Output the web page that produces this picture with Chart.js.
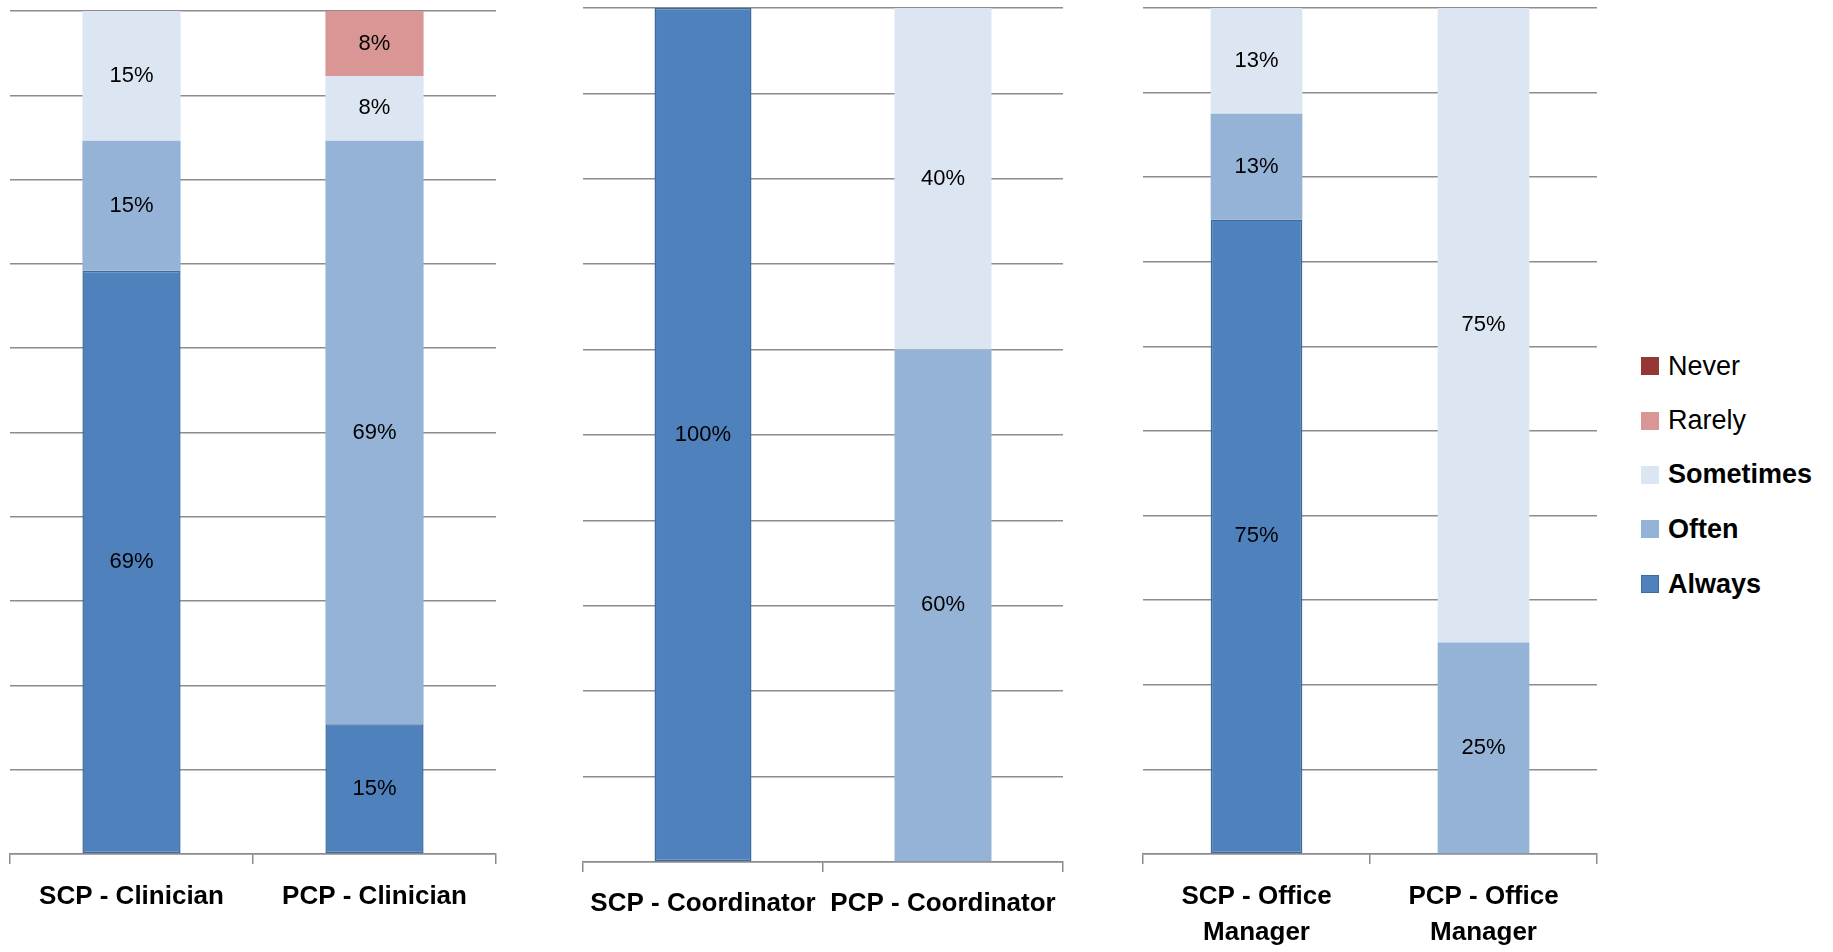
<!DOCTYPE html>
<html><head><meta charset="utf-8">
<script src="https://cdn.jsdelivr.net/npm/chart.js@4"></script>
<style>
html,body{margin:0;padding:0;background:#fff;}
body{width:1833px;height:952px;position:relative;overflow:hidden;font-family:"Liberation Sans",Arial,sans-serif;}
canvas{position:absolute;top:0;}
#legend{position:absolute;left:1641px;top:0;width:192px;height:952px;}
.item{position:absolute;left:0;height:30px;display:flex;align-items:center;white-space:nowrap;font-size:27px;color:#000;}
.sw{width:18px;height:18px;margin-right:9px;box-sizing:border-box;flex:none;}
</style></head><body>
<canvas id="c1" width="506" height="952" style="left:0px"></canvas>
<canvas id="c2" width="500" height="952" style="left:573px"></canvas>
<canvas id="c3" width="474" height="952" style="left:1133px"></canvas>
<div id="legend"></div>
<script>
// ---- data ----
const categoriesClinician = ['SCP - Clinician', 'PCP - Clinician'];
const categoriesCoordinator = ['SCP - Coordinator', 'PCP - Coordinator'];
const categoriesOffice = [['SCP - Office', 'Manager'], ['PCP - Office', 'Manager']];

const seriesNames = ['Always', 'Often', 'Sometimes', 'Rarely', 'Never'];
const seriesColors = ['#4F81BD', '#95B3D7', '#DCE6F2', '#D99694', '#953735'];
const legendOrder = ['Never', 'Rarely', 'Sometimes', 'Often', 'Always'];
const legendBold = ['Sometimes', 'Often', 'Always'];

const clinicianAlways = [69.2, 15.4];
const clinicianOften = [15.4, 69.2];
const clinicianSometimes = [15.4, 7.7];
const clinicianRarely = [0, 7.7];
const clinicianNever = [0, 0];

const coordinatorAlways = [100, 0];
const coordinatorOften = [0, 60];
const coordinatorSometimes = [0, 40];
const coordinatorRarely = [0, 0];
const coordinatorNever = [0, 0];

const officeAlways = [75, 0];
const officeOften = [12.5, 25];
const officeSometimes = [12.5, 75];
const officeRarely = [0, 0];
const officeNever = [0, 0];

const yMin = 0, yMax = 100, yStep = 10;

// ---- styling ----
const FAMILY = '"Liberation Sans", Arial, sans-serif';
const gridColor = '#8c8c8c';

const segmentLabels = {
  id: 'segmentLabels',
  afterDatasetsDraw(chart) {
    const ctx = chart.ctx;
    ctx.save();
    ctx.font = '22px ' + FAMILY;
    ctx.fillStyle = '#000';
    ctx.textAlign = 'center';
    ctx.textBaseline = 'middle';
    chart.data.datasets.forEach((ds, i) => {
      const meta = chart.getDatasetMeta(i);
      meta.data.forEach((bar, j) => {
        const v = ds.data[j];
        if (!v) return;
        const p = bar.getProps(['x', 'y', 'base'], true);
        ctx.fillText(Math.round(v) + '%', p.x, (p.y + p.base) / 2);
      });
    });
    ctx.restore();
  }
};

function makeChart(id, labels, series, pad, xHeight, labelPad) {
  const datasets = series.map((vals, i) => ({
    label: seriesNames[i],
    data: vals,
    backgroundColor: seriesColors[i],
    borderColor: i === 0 ? '#3F6A9C' : seriesColors[i],
    borderWidth: i === 0 ? 1.5 : 0,
    borderSkipped: false,
    categoryPercentage: 1.0,
    barPercentage: 0.404
  }));
  return new Chart(document.getElementById(id), {
    type: 'bar',
    data: { labels, datasets },
    plugins: [segmentLabels],
    options: {
      responsive: false,
      animation: false,
      events: [],
      layout: { padding: { left: pad.left, right: pad.right, top: pad.top, bottom: 0 } },
      plugins: { legend: { display: false }, tooltip: { enabled: false } },
      scales: {
        x: {
          stacked: true,
          grid: { offset: true, drawOnChartArea: false, drawTicks: true, tickLength: 10, color: gridColor, lineWidth: 1.5 },
          border: { display: true, color: gridColor, width: 1.5 },
          ticks: {
            autoSkip: false, maxRotation: 0, minRotation: 0, padding: labelPad, color: '#000',
            font: { family: FAMILY, size: 26, weight: 'bold', lineHeight: '36px' }
          },
          afterFit(s) { s.height = xHeight; }
        },
        y: {
          stacked: true, min: yMin, max: yMax,
          ticks: { stepSize: yStep, display: false },
          grid: { color: gridColor, lineWidth: 1.5, drawTicks: false },
          border: { display: false },
          afterFit(s) { s.width = 0; }
        }
      }
    }
  });
}

makeChart('c1', categoriesClinician,
  [clinicianAlways, clinicianOften, clinicianSometimes, clinicianRarely, clinicianNever],
  { left: 10, right: 10, top: 11 }, 98, 15);
makeChart('c2', categoriesCoordinator,
  [coordinatorAlways, coordinatorOften, coordinatorSometimes, coordinatorRarely, coordinatorNever],
  { left: 10, right: 10, top: 8 }, 90, 14);
makeChart('c3', categoriesOffice,
  [officeAlways, officeOften, officeSometimes, officeRarely, officeNever],
  { left: 10, right: 10, top: 8 }, 98, 15);

// ---- legend ----
const legend = document.getElementById('legend');
const legendCenters = [366, 420.5, 474.5, 529, 584];
legendOrder.forEach((name, k) => {
  const idx = seriesNames.indexOf(name);
  const item = document.createElement('div');
  item.className = 'item';
  item.style.top = (legendCenters[k] - 15) + 'px';
  if (legendBold.includes(name)) item.style.fontWeight = 'bold';
  const sw = document.createElement('span');
  sw.className = 'sw';
  sw.style.background = seriesColors[idx];
  if (name === 'Always') sw.style.border = '1.5px solid #3F6A9C';
  const tx = document.createElement('span');
  tx.textContent = name;
  item.appendChild(sw);
  item.appendChild(tx);
  legend.appendChild(item);
});
</script>
</body></html>
